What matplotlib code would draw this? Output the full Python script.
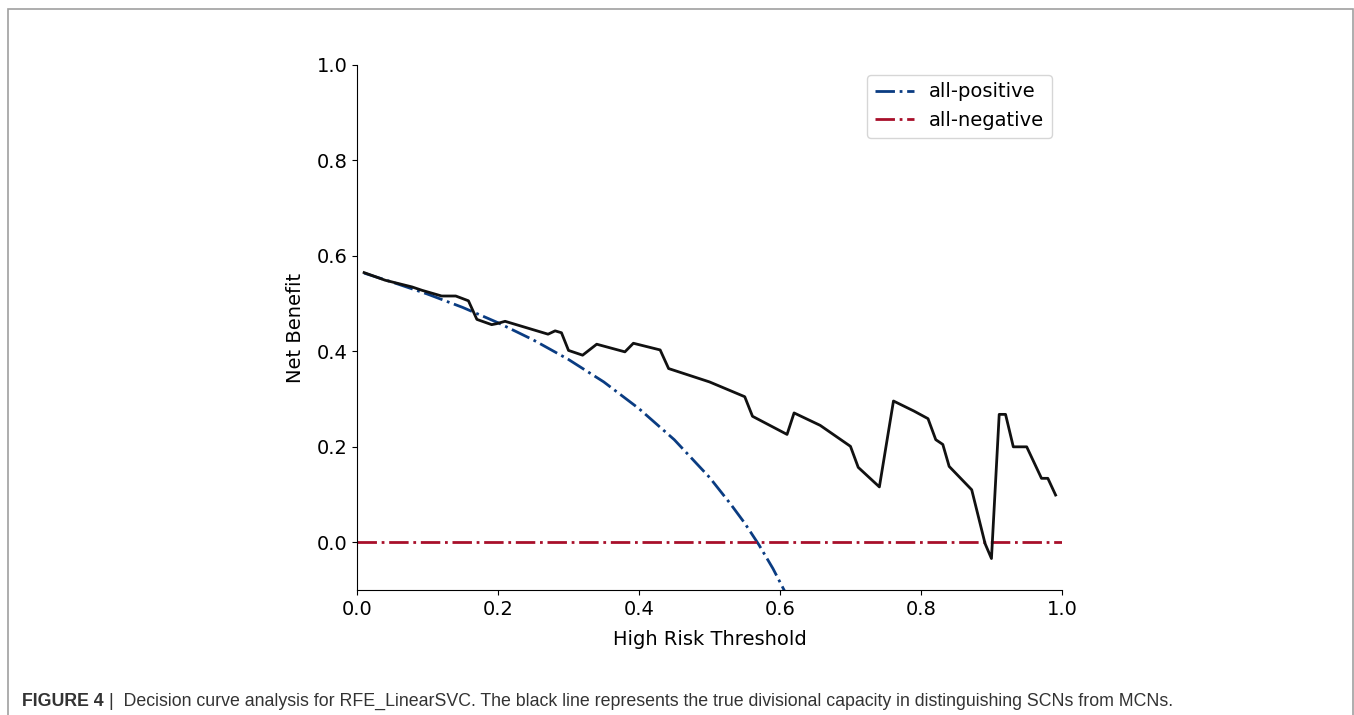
import numpy as np
import matplotlib
matplotlib.use("Agg")
import matplotlib.pyplot as plt
from matplotlib.patches import Rectangle

# model net benefit (black line)
model_thr = [0.01, 0.04, 0.078, 0.092, 0.12, 0.14, 0.158, 0.17, 0.191, 0.198, 0.21,
             0.271, 0.281, 0.29, 0.30, 0.32, 0.34, 0.38, 0.392, 0.43, 0.442,
             0.50, 0.55, 0.561, 0.61, 0.62, 0.657, 0.70, 0.711, 0.741, 0.761,
             0.79, 0.81, 0.821, 0.831, 0.84, 0.872, 0.891, 0.90, 0.911, 0.92,
             0.931, 0.95, 0.971, 0.98, 0.991]
model_nb = [0.565, 0.549, 0.535, 0.528, 0.516, 0.516, 0.506, 0.467, 0.456, 0.458, 0.463,
            0.436, 0.443, 0.439, 0.402, 0.392, 0.415, 0.399, 0.417, 0.403, 0.364,
            0.336, 0.305, 0.264, 0.226, 0.271, 0.245, 0.201, 0.157, 0.116, 0.296,
            0.275, 0.259, 0.215, 0.205, 0.159, 0.110, -0.003, -0.034, 0.268, 0.268,
            0.200, 0.200, 0.134, 0.134, 0.099]

# treat-all curve
allpos_thr = [0.01, 0.05, 0.10, 0.15, 0.20, 0.25, 0.30, 0.35, 0.40, 0.45, 0.50,
              0.53, 0.55, 0.57, 0.59, 0.61, 0.63]
allpos_nb = [0.564, 0.545, 0.520, 0.492, 0.460, 0.424, 0.383, 0.336, 0.280, 0.215, 0.136,
             0.080, 0.040, -0.005, -0.055, -0.112, -0.175]

# treat-none line
allneg_thr = [0.0, 1.0]
allneg_nb = [0.0, 0.0]

fig = plt.figure(figsize=(13.54, 7.15), dpi=100)
ax = fig.add_axes([0.2637, 0.1748, 0.5206, 0.7343])

dd = (7, 1.7, 1, 1.7)
ax.plot(allpos_thr, allpos_nb, color="#0a3c82", lw=2, dashes=dd, label="all-positive")
ax.plot(allneg_thr, allneg_nb, color="#a80f2a", lw=2, dashes=dd, label="all-negative")
ax.plot(model_thr, model_nb, color="#111111", lw=2)

ax.set_xlim(0, 1)
ax.set_ylim(-0.1, 1.0)
ax.set_xticks([0.0, 0.2, 0.4, 0.6, 0.8, 1.0])
ax.set_yticks([0.0, 0.2, 0.4, 0.6, 0.8, 1.0])
ax.tick_params(labelsize=14)
ax.spines["top"].set_visible(False)
ax.spines["right"].set_visible(False)
ax.set_xlabel("High Risk Threshold", fontsize=14, labelpad=8)
ax.set_ylabel("Net Benefit", fontsize=14, labelpad=8)
ax.legend(loc="upper right", fontsize=14)

# page frame and caption
fig.patches.append(Rectangle((8 / 1354, -0.1), 1345 / 1354, 1.1 - 9 / 715,
                             transform=fig.transFigure, fill=False,
                             edgecolor="#a0a0a0", lw=1.2))
fig.text(22 / 1354, 1 - 706 / 715, "FIGURE 4", fontsize=12.8, fontweight="bold",
         family="Liberation Sans", color="#333333", va="baseline")
fig.text(109 / 1354, 1 - 706 / 715,
         "|  Decision curve analysis for RFE_LinearSVC. The black line represents the true "
         "divisional capacity in distinguishing SCNs from MCNs.",
         fontsize=12.8, family="Liberation Sans", color="#333333", va="baseline")

fig.savefig("out.png", dpi=100)
